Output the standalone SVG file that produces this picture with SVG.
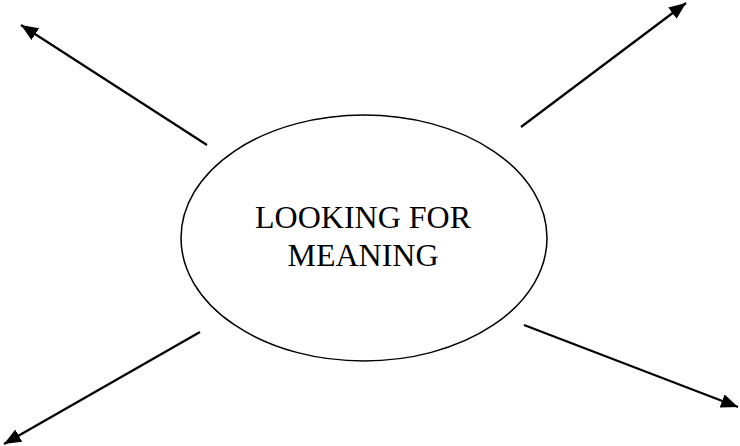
<svg xmlns="http://www.w3.org/2000/svg" width="740" height="446" viewBox="0 0 740 446">
<style>
.conn{stroke:#000;stroke-width:2.2;fill:none;marker-end:url(#ah);}
.node{fill:#fff;stroke:#000;stroke-width:1.5;}
.lbl{font-family:"Liberation Serif","Times New Roman",serif;font-size:32px;fill:#000;text-anchor:middle;}
</style>
<defs>
<marker id="ah" markerUnits="userSpaceOnUse" markerWidth="18" markerHeight="14" refX="17" refY="7" orient="auto">
<path d="M0,0 L17,7 L0,14 z" fill="#000"/>
</marker>
</defs>
<rect width="740" height="446" fill="#fff"/>
<g id="connectors">
<line class="conn" x1="207" y1="145" x2="21" y2="25"/>
<line class="conn" x1="521" y1="127" x2="686" y2="3"/>
<line class="conn" x1="200" y1="332" x2="4" y2="444"/>
<line class="conn" x1="524" y1="325" x2="738" y2="407"/>
</g>
<g id="center">
<ellipse class="node" cx="364" cy="238" rx="183" ry="123"/>
<text class="lbl" x="363" y="228">LOOKING FOR</text>
<text class="lbl" x="363" y="266">MEANING</text>
</g>
</svg>
